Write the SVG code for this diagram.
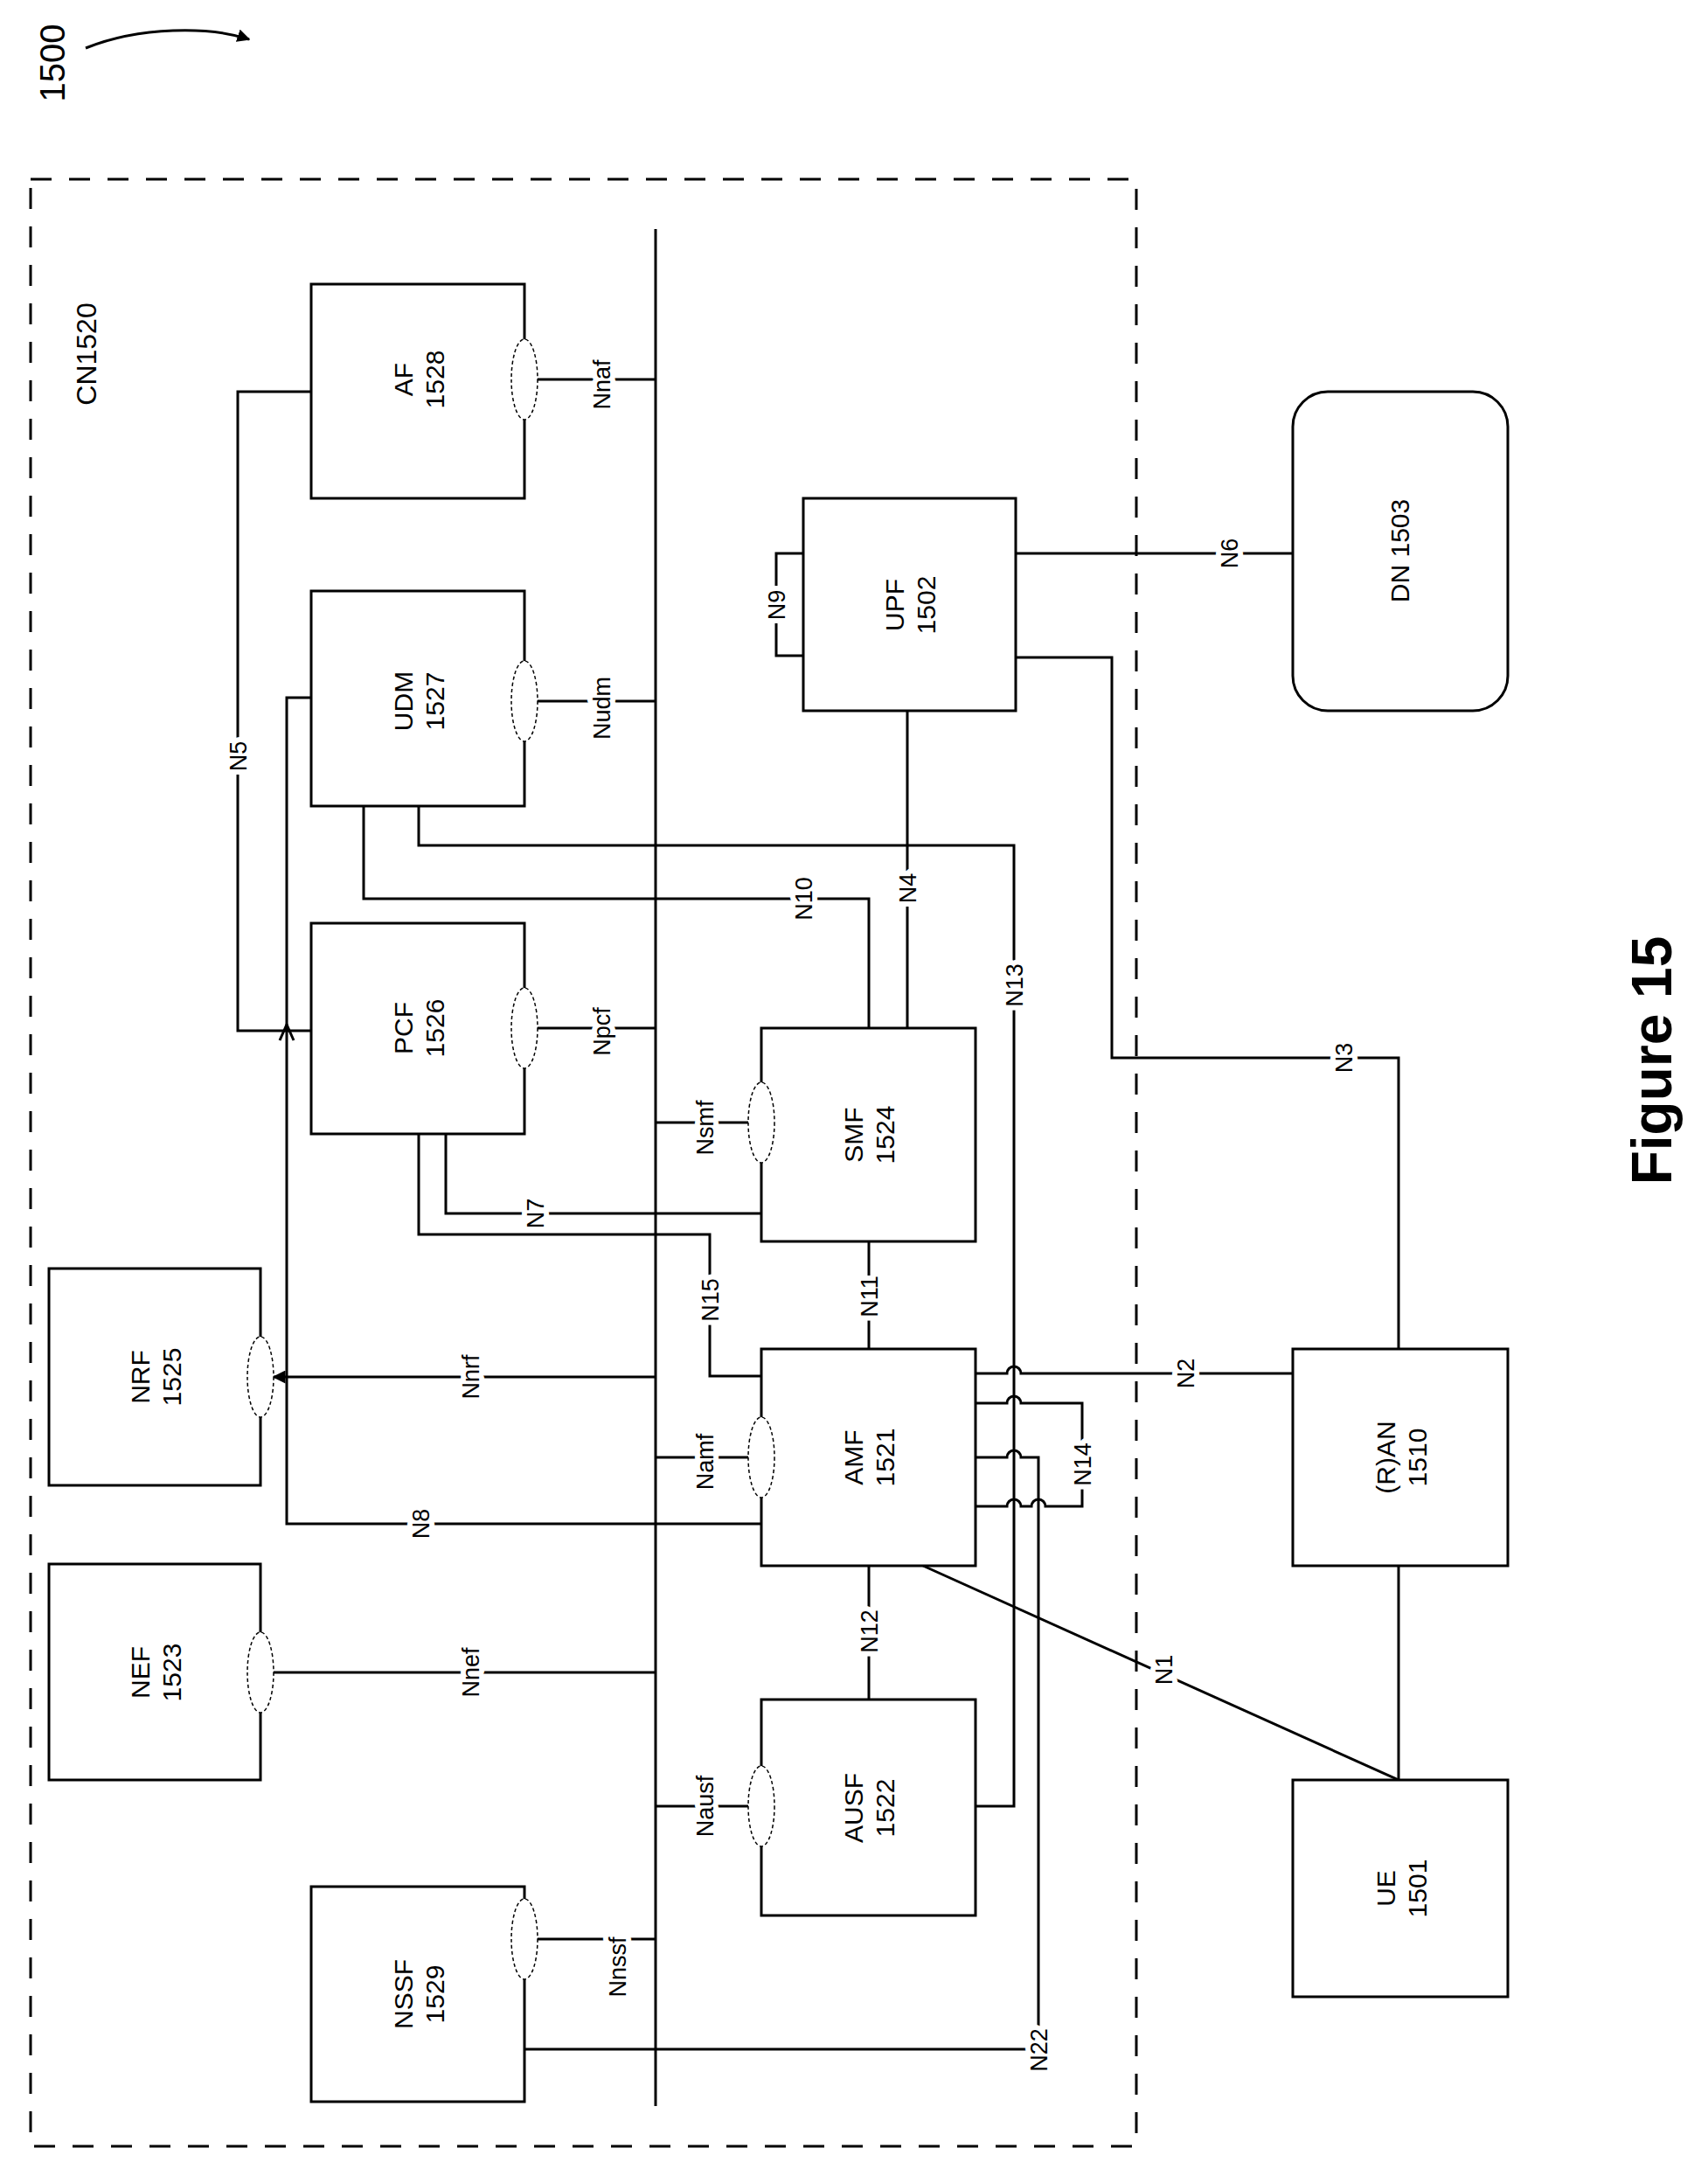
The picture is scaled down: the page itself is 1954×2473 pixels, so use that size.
<svg xmlns="http://www.w3.org/2000/svg" width="1954" height="2473" viewBox="0 0 1954 2473">
<style>
.b{fill:#fff;stroke:#000;stroke-width:3}
.e{fill:#fff;stroke:#000;stroke-width:1.5;stroke-dasharray:4 3}
.c{fill:none;stroke:#000;stroke-width:3}
text{font-family:"Liberation Sans",Arial,sans-serif;fill:#000;text-anchor:middle}
.t{font-size:30px}
.l{font-size:27px;stroke:#fff;stroke-width:12;paint-order:stroke;stroke-linejoin:round}
</style>
<defs>
<marker id="ar" viewBox="0 0 10 10" refX="9" refY="5" markerWidth="5" markerHeight="5" orient="auto"><path d="M0,0L10,5L0,10z" fill="#000"/></marker>
</defs>
<rect x="0" y="0" width="1954" height="2473" fill="#fff"/>
<g id="label1500">
<text font-size="40" transform="translate(74,72) rotate(-90)">1500</text>
<path d="M98,55 C160,30 240,30 285,45" fill="none" stroke="#000" stroke-width="3" marker-end="url(#ar)"/>
</g>
<g id="cn1520">
<rect x="35" y="205" width="1265" height="2250" fill="none" stroke="#000" stroke-width="3" stroke-dasharray="24 20"/>
<text font-size="32" transform="translate(110,405) rotate(-90)">CN1520</text>
</g>
<g id="connectors">
<line class="c" x1="750" y1="262" x2="750" y2="2409"/>
<line class="c" x1="615" y1="434" x2="750" y2="434"/>
<line class="c" x1="615" y1="802" x2="750" y2="802"/>
<line class="c" x1="615" y1="1176" x2="750" y2="1176"/>
<line class="c" x1="750" y1="1284" x2="856" y2="1284"/>
<line class="c" x1="750" y1="1667" x2="856" y2="1667"/>
<line class="c" x1="750" y1="2066" x2="856" y2="2066"/>
<line class="c" x1="750" y1="1575" x2="313" y2="1575" marker-end="url(#ar)"/>
<line class="c" x1="313" y1="1913" x2="750" y2="1913"/>
<line class="c" x1="615" y1="2218" x2="750" y2="2218"/>
<polyline class="c" points="356,448 272,448 272,1179 356,1179"/>
<polyline class="c" points="871,1743 328,1743 328,798 356,798"/>
<path d="M320,1190 L328,1172 L336,1190" fill="none" stroke="#000" stroke-width="3"/>
<polyline class="c" points="416,922 416,1028 994,1028 994,1176"/>
<polyline class="c" points="479,922 479,967 1160,967 1160,2066 1116,2066"/>
<polyline class="c" points="919,633 888,633 888,750 919,750"/>
<line class="c" x1="1162" y1="633" x2="1479" y2="633"/>
<line class="c" x1="1038" y1="813" x2="1038" y2="1176"/>
<polyline class="c" points="1162,752 1272,752 1272,1210 1600,1210 1600,1543"/>
<polyline class="c" points="510,1297 510,1388 871,1388"/>
<polyline class="c" points="479,1297 479,1412 812,1412 812,1574 871,1574"/>
<line class="c" x1="994" y1="1420" x2="994" y2="1543"/>
<line class="c" x1="994" y1="1791" x2="994" y2="1944"/>
<path class="c" d="M1116,1571 H1152 A8,8 0 0 1 1168,1571 H1479"/>
<path class="c" d="M1116,1605 H1152 A8,8 0 0 1 1168,1605 H1238 V1723 H1196 A8,8 0 0 0 1180,1723 H1168 A8,8 0 0 0 1152,1723 H1116"/>
<path class="c" d="M1116,1667 H1152 A8,8 0 0 1 1168,1667 H1188 V2344 H600"/>
<line class="c" x1="1600" y1="1791" x2="1600" y2="2036"/>
<line class="c" x1="1056" y1="1791" x2="1600" y2="2036"/>
</g>
<g id="af"><rect class="b" x="356" y="325" width="244" height="245"/><ellipse class="e" cx="600" cy="434" rx="15" ry="46"/><text class="t" transform="translate(478,434) rotate(-90)"><tspan x="0" y="-6">AF</tspan><tspan x="0" y="30">1528</tspan></text></g>
<g id="udm"><rect class="b" x="356" y="676" width="244" height="246"/><ellipse class="e" cx="600" cy="802" rx="15" ry="46"/><text class="t" transform="translate(478,802) rotate(-90)"><tspan x="0" y="-6">UDM</tspan><tspan x="0" y="30">1527</tspan></text></g>
<g id="pcf"><rect class="b" x="356" y="1056" width="244" height="241"/><ellipse class="e" cx="600" cy="1176" rx="15" ry="46"/><text class="t" transform="translate(478,1176) rotate(-90)"><tspan x="0" y="-6">PCF</tspan><tspan x="0" y="30">1526</tspan></text></g>
<g id="nrf"><rect class="b" x="56" y="1451" width="242" height="248"/><ellipse class="e" cx="298" cy="1575" rx="15" ry="46"/><text class="t" transform="translate(177,1575) rotate(-90)"><tspan x="0" y="-6">NRF</tspan><tspan x="0" y="30">1525</tspan></text></g>
<g id="nef"><rect class="b" x="56" y="1789" width="242" height="247"/><ellipse class="e" cx="298" cy="1913" rx="15" ry="46"/><text class="t" transform="translate(177,1913) rotate(-90)"><tspan x="0" y="-6">NEF</tspan><tspan x="0" y="30">1523</tspan></text></g>
<g id="nssf"><rect class="b" x="356" y="2158" width="244" height="246"/><ellipse class="e" cx="600" cy="2218" rx="15" ry="46"/><text class="t" transform="translate(478,2281) rotate(-90)"><tspan x="0" y="-6">NSSF</tspan><tspan x="0" y="30">1529</tspan></text></g>
<g id="smf"><rect class="b" x="871" y="1176" width="245" height="244"/><ellipse class="e" cx="871" cy="1284" rx="15" ry="46"/><text class="t" transform="translate(993,1298) rotate(-90)"><tspan x="0" y="-6">SMF</tspan><tspan x="0" y="30">1524</tspan></text></g>
<g id="amf"><rect class="b" x="871" y="1543" width="245" height="248"/><ellipse class="e" cx="871" cy="1667" rx="15" ry="46"/><text class="t" transform="translate(993,1667) rotate(-90)"><tspan x="0" y="-6">AMF</tspan><tspan x="0" y="30">1521</tspan></text></g>
<g id="ausf"><rect class="b" x="871" y="1944" width="245" height="247"/><ellipse class="e" cx="871" cy="2066" rx="15" ry="46"/><text class="t" transform="translate(993,2068) rotate(-90)"><tspan x="0" y="-6">AUSF</tspan><tspan x="0" y="30">1522</tspan></text></g>
<g id="upf"><rect class="b" x="919" y="570" width="243" height="243"/><text class="t" transform="translate(1040,692) rotate(-90)"><tspan x="0" y="-6">UPF</tspan><tspan x="0" y="30">1502</tspan></text></g>
<g id="dn"><rect class="b" x="1479" y="448" width="246" height="365" rx="40"/><text class="t" transform="translate(1612,630) rotate(-90)">DN 1503</text></g>
<g id="ran"><rect class="b" x="1479" y="1543" width="246" height="248"/><text class="t" transform="translate(1602,1667) rotate(-90)"><tspan x="0" y="-6">(R)AN</tspan><tspan x="0" y="30">1510</tspan></text></g>
<g id="ue"><rect class="b" x="1479" y="2036" width="246" height="248"/><text class="t" transform="translate(1602,2160) rotate(-90)"><tspan x="0" y="-6">UE</tspan><tspan x="0" y="30">1501</tspan></text></g>
<g id="labels">
<text class="l" transform="translate(698,440) rotate(-90)">Nnaf</text>
<text class="l" transform="translate(698,810) rotate(-90)">Nudm</text>
<text class="l" transform="translate(698,1180) rotate(-90)">Npcf</text>
<text class="l" transform="translate(816,1290) rotate(-90)">Nsmf</text>
<text class="l" transform="translate(816,1672) rotate(-90)">Namf</text>
<text class="l" transform="translate(816,2066) rotate(-90)">Nausf</text>
<text class="l" transform="translate(548,1575) rotate(-90)">Nnrf</text>
<text class="l" transform="translate(548,1913) rotate(-90)">Nnef</text>
<text class="l" transform="translate(716,2250) rotate(-90)">Nnssf</text>
<text class="l" transform="translate(282,865) rotate(-90)">N5</text>
<text class="l" transform="translate(491,1743) rotate(-90)">N8</text>
<text class="l" transform="translate(929,1028) rotate(-90)">N10</text>
<text class="l" transform="translate(1048,1016) rotate(-90)">N4</text>
<text class="l" transform="translate(1170,1127) rotate(-90)">N13</text>
<text class="l" transform="translate(898,692) rotate(-90)">N9</text>
<text class="l" transform="translate(1416,633) rotate(-90)">N6</text>
<text class="l" transform="translate(1547,1210) rotate(-90)">N3</text>
<text class="l" transform="translate(622,1388) rotate(-90)">N7</text>
<text class="l" transform="translate(822,1487) rotate(-90)">N15</text>
<text class="l" transform="translate(1004,1483) rotate(-90)">N11</text>
<text class="l" transform="translate(1004,1866) rotate(-90)">N12</text>
<text class="l" transform="translate(1248,1675) rotate(-90)">N14</text>
<text class="l" transform="translate(1366,1571) rotate(-90)">N2</text>
<text class="l" transform="translate(1341,1910) rotate(-90)">N1</text>
<text class="l" transform="translate(1198,2345) rotate(-90)">N22</text>
</g>
<text font-size="64" font-weight="bold" transform="translate(1912,1213) rotate(-90)">Figure 15</text>
</svg>
